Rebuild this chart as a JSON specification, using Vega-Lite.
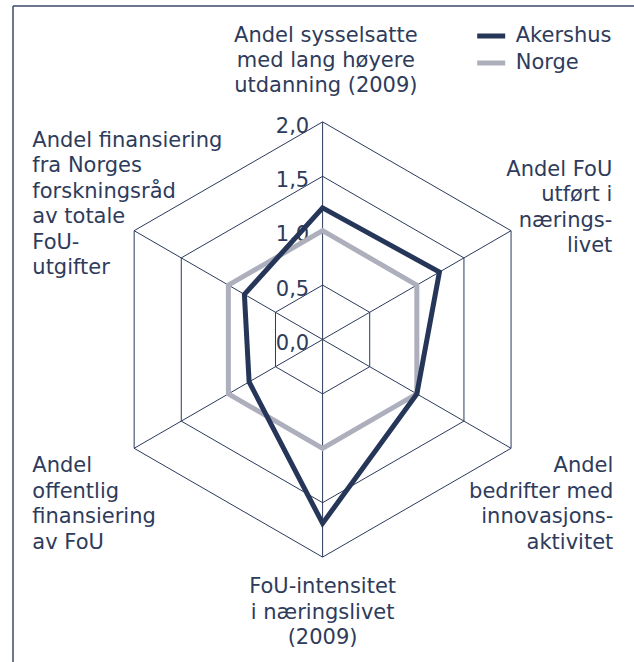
{
  "$schema": "https://vega.github.io/schema/vega-lite/v6.json",
  "width": 621,
  "height": 656,
  "autosize": {"type": "none"},
  "padding": {"left": 13, "top": 6, "right": 0, "bottom": 0},
  "config": {
    "view": {"stroke": null},
    "font": "DejaVu Sans",
    "locale": {"number": {"decimal": ",", "thousands": " ", "grouping": [3], "currency": ["", " kr"]}}
  },
  "datasets": {
    "scores": [
      {"series": "Akershus", "axis": 0, "value": 1.21},
      {"series": "Akershus", "axis": 1, "value": 1.24},
      {"series": "Akershus", "axis": 2, "value": 1.0},
      {"series": "Akershus", "axis": 3, "value": 1.69},
      {"series": "Akershus", "axis": 4, "value": 0.78},
      {"series": "Akershus", "axis": 5, "value": 0.83},
      {"series": "Norge", "axis": 0, "value": 1.0},
      {"series": "Norge", "axis": 1, "value": 1.0},
      {"series": "Norge", "axis": 2, "value": 1.0},
      {"series": "Norge", "axis": 3, "value": 1.0},
      {"series": "Norge", "axis": 4, "value": 1.0},
      {"series": "Norge", "axis": 5, "value": 1.0}
    ],
    "gridLevels": [
      {"level": 0.5, "axis": [0, 1, 2, 3, 4, 5]},
      {"level": 1.0, "axis": [0, 1, 2, 3, 4, 5]},
      {"level": 1.5, "axis": [0, 1, 2, 3, 4, 5]},
      {"level": 2.0, "axis": [0, 1, 2, 3, 4, 5]}
    ],
    "ticks": [{"level": 0}, {"level": 0.5}, {"level": 1.0}, {"level": 1.5}, {"level": 2.0}],
    "axes": [
      {"axis": 0, "title": "Andel sysselsatte\nmed lang høyere\nutdanning (2009)"},
      {"axis": 1, "title": "Andel FoU\nutført i\nnærings-\nlivet"},
      {"axis": 2, "title": "Andel\nbedrifter med\ninnovasjons-\naktivitet"},
      {"axis": 3, "title": "FoU-intensitet\ni næringslivet\n(2009)"},
      {"axis": 4, "title": "Andel\noffentlig\nfinansiering\nav FoU"},
      {"axis": 5, "title": "Andel finansiering\nfra Norges\nforskningsråd\nav totale\nFoU-\nutgifter"}
    ]
  },
  "layer": [
    {
      "data": {"name": "gridLevels"},
      "transform": [
        {"flatten": ["axis"]},
        {"calculate": "datum.level * sin(datum.axis * PI / 3)", "as": "x"},
        {"calculate": "datum.level * cos(datum.axis * PI / 3)", "as": "y"}
      ],
      "mark": {"type": "line", "interpolate": "linear-closed", "color": "#2b3a5c", "strokeWidth": 1},
      "encoding": {
        "x": {"field": "x", "type": "quantitative", "scale": {"domain": [-2.8456, 2.8621], "nice": false, "zero": false}, "axis": null},
        "y": {"field": "y", "type": "quantitative", "scale": {"domain": [-2.9642, 3.0653], "nice": false, "zero": false}, "axis": null},
        "detail": {"field": "level", "type": "quantitative"},
        "order": {"field": "axis", "type": "quantitative"}
      }
    },
    {
      "data": {"values": [{"edge": "top"}]},
      "mark": {"type": "rule", "color": "#3b4868", "strokeWidth": 1.5},
      "encoding": {"y": {"datum": 3.0653, "type": "quantitative"}}
    },
    {
      "data": {"values": [{"edge": "left"}]},
      "mark": {"type": "rule", "color": "#3b4868", "strokeWidth": 1.5},
      "encoding": {"x": {"datum": -2.8456, "type": "quantitative"}}
    },
    {
      "data": {"name": "axes"},
      "transform": [
        {"calculate": "2 * sin(datum.axis * PI / 3)", "as": "x"},
        {"calculate": "2 * cos(datum.axis * PI / 3)", "as": "y"}
      ],
      "mark": {"type": "rule", "color": "#2b3a5c", "strokeWidth": 1},
      "encoding": {
        "x": {"field": "x", "type": "quantitative"},
        "y": {"field": "y", "type": "quantitative"},
        "x2": {"datum": 0},
        "y2": {"datum": 0}
      }
    },
    {
      "data": {"name": "ticks"},
      "mark": {"type": "text", "align": "right", "baseline": "alphabetic", "dx": -13.4, "dy": 10.6, "fontSize": 21, "font": "DejaVu Sans", "color": "#2e3b5b"},
      "encoding": {
        "x": {"datum": 0, "type": "quantitative"},
        "y": {"field": "level", "type": "quantitative"},
        "text": {"field": "level", "type": "quantitative", "format": ".1f"}
      }
    },
    {
      "data": {"name": "axes"},
      "transform": [
        {"filter": "datum.axis == 0 || datum.axis == 3"},
        {"calculate": "datum.axis == 0 ? 0.03 : 0", "as": "x"},
        {"calculate": "datum.axis == 0 ? 2.737 : -2.333", "as": "y"}
      ],
      "mark": {"type": "text", "align": "center", "baseline": "alphabetic", "lineBreak": "\n", "lineHeight": 25.3, "fontSize": 21, "font": "DejaVu Sans", "color": "#2e3b5b"},
      "encoding": {
        "x": {"field": "x", "type": "quantitative"},
        "y": {"field": "y", "type": "quantitative"},
        "text": {"field": "title", "type": "nominal"}
      }
    },
    {
      "data": {"name": "axes"},
      "transform": [
        {"filter": "datum.axis == 1 || datum.axis == 2"},
        {"calculate": "datum.axis == 1 ? 2.663 : 2.672", "as": "x"},
        {"calculate": "datum.axis == 1 ? 1.503 : -1.221", "as": "y"}
      ],
      "mark": {"type": "text", "align": "right", "baseline": "alphabetic", "lineBreak": "\n", "lineHeight": 25.5, "fontSize": 21, "font": "DejaVu Sans", "color": "#2e3b5b"},
      "encoding": {
        "x": {"field": "x", "type": "quantitative"},
        "y": {"field": "y", "type": "quantitative"},
        "text": {"field": "title", "type": "nominal"}
      }
    },
    {
      "data": {"name": "axes"},
      "transform": [
        {"filter": "datum.axis == 4 || datum.axis == 5"},
        {"calculate": "-2.668", "as": "x"},
        {"calculate": "datum.axis == 5 ? 1.772 : -1.221", "as": "y"}
      ],
      "mark": {"type": "text", "align": "left", "baseline": "alphabetic", "lineBreak": "\n", "lineHeight": 25.5, "fontSize": 21, "font": "DejaVu Sans", "color": "#2e3b5b"},
      "encoding": {
        "x": {"field": "x", "type": "quantitative"},
        "y": {"field": "y", "type": "quantitative"},
        "text": {"field": "title", "type": "nominal"}
      }
    },
    {
      "data": {"name": "scores"},
      "transform": [
        {"filter": "datum.series == 'Norge'"},
        {"calculate": "datum.value * sin(datum.axis * PI / 3)", "as": "x"},
        {"calculate": "datum.value * cos(datum.axis * PI / 3)", "as": "y"}
      ],
      "mark": {"type": "line", "interpolate": "linear-closed", "strokeWidth": 5, "strokeJoin": "miter"},
      "encoding": {
        "x": {"field": "x", "type": "quantitative"},
        "y": {"field": "y", "type": "quantitative"},
        "order": {"field": "axis", "type": "quantitative"},
        "color": {
          "field": "series", "type": "nominal",
          "scale": {"domain": ["Akershus", "Norge"], "range": ["#263659", "#adb0bc"]},
          "legend": {
            "title": null, "orient": "none", "legendX": 461.7, "legendY": 13.5,
            "symbolType": "stroke", "symbolStrokeWidth": 5, "symbolSize": 784,
            "labelFontSize": 21, "labelFont": "DejaVu Sans", "labelColor": "#2e3b5b",
            "labelOffset": 8, "rowPadding": 0, "padding": 0
          }
        }
      }
    },
    {
      "data": {"name": "scores"},
      "transform": [
        {"filter": "datum.series == 'Akershus'"},
        {"calculate": "datum.value * sin(datum.axis * PI / 3)", "as": "x"},
        {"calculate": "datum.value * cos(datum.axis * PI / 3)", "as": "y"}
      ],
      "mark": {"type": "line", "interpolate": "linear-closed", "strokeWidth": 5, "strokeJoin": "miter"},
      "encoding": {
        "x": {"field": "x", "type": "quantitative"},
        "y": {"field": "y", "type": "quantitative"},
        "order": {"field": "axis", "type": "quantitative"},
        "color": {"field": "series", "type": "nominal"}
      }
    }
  ]
}
